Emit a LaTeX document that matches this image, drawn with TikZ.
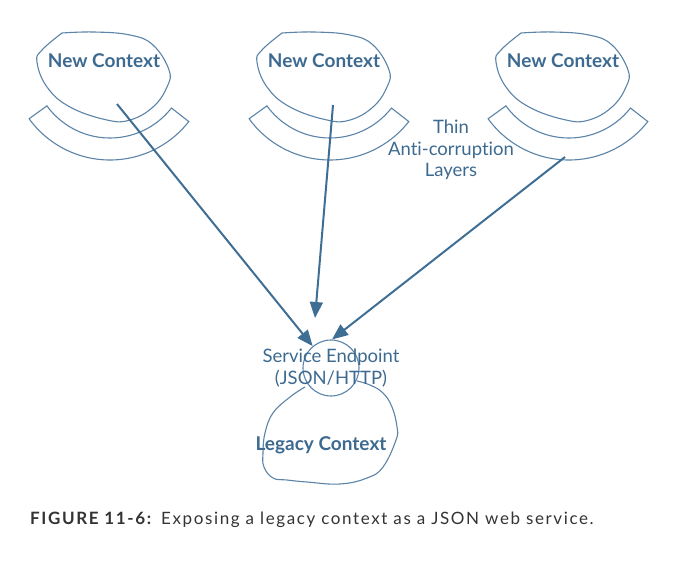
\documentclass[tikz,border=0pt]{standalone}
\usepackage{fontspec}
\setmainfont{Lato}[Ligatures=NoCommon]
\newfontfamily\capfont{Lato}[LetterSpace=9.5,Ligatures=NoCommon]
\usetikzlibrary{arrows.meta,positioning,shapes}
\definecolor{ctxblue}{HTML}{3D6A90}
\definecolor{ctxline}{HTML}{5B84A8}
\definecolor{arrowblue}{HTML}{3F6E95}
\definecolor{capgray}{HTML}{333333}
\tikzset{
    %Define standard arrow tip
    >={Triangle[length=16pt,width=13pt]},
    %Define style for context names
    ctxlabel/.style={
        font=\fontsize{19}{22}\selectfont\bfseries,
        text=ctxblue,
        inner sep=0pt
    },
    plainlabel/.style={
        font=\fontsize{18.5}{21.5}\selectfont,
        text=ctxblue,
        align=center,
        inner sep=0pt
    },
    %Define style for outlines
    outline/.style={
        draw=ctxline,
        line width=1.1pt,
        fill=white
    },
    endpoint/.style={
        circle,
        draw=ctxline,
        line width=1.1pt,
        fill=white,
        minimum size=56pt,
        inner sep=0pt
    },
    % Define arrow style
    pil/.style={
        ->,
        draw=arrowblue,
        line width=2pt}
}
\begin{document}
\begin{tikzpicture}[x=1pt,y=-1pt]
\useasboundingbox (0,0) rectangle (697,574);
% new contexts with their thin layers
\foreach \i/\x in {1/104,2/324,3/563}{
  \begin{scope}[shift={(\x,61)}]
    \draw[outline] plot[smooth,tension=0.7] coordinates {(-42,-28) (-10,-29) (26,-26) (49,-16) (65,9) (63,26) (49,46) (26,59) (3,59) (-34,46) (-57,26) (-67,1) (-62,-11) (-42,-28)};
    \draw[outline] ([shift={(6,-1)}]144:100) arc[start angle=144,end angle=38,radius=100]
      -- ([shift={(6,-1)}]38:78) arc[start angle=38,end angle=144,radius=78] -- cycle;
  \end{scope}
  \node[ctxlabel] (ctx\i) at (\x,61) {New Context};
}
\node[plainlabel] (acl) at (451,150) {Thin\\Anti-corruption\\Layers};
% legacy context
\draw[outline] plot[smooth,tension=0.7] coordinates {(305,387) (290,397) (273,413) (265,433) (263,453) (264,467) (273,478) (287,480) (307,482) (340,484) (367,478) (383,467) (396,440) (397,427) (392,407) (383,393) (370,385) (357,381)};
\node[endpoint] (ep) at (331,368) {};
\node[plainlabel] (eptext) at (ep) {Service Endpoint\\(JSON/HTTP)};
\node[ctxlabel,anchor=base] (legacy) at (321,450) {Legacy Context};
\coordinate (s1) at (117,104);
\coordinate (s2) at (333,105);
\coordinate (s3) at (565,157);
\coordinate (t2) at (315,318);
\path
  (s1) edge[pil] (ep.130)
  (s2) edge[pil] (t2)
  (s3) edge[pil] (ep.88);
\node[anchor=base west,font=\capfont\fontsize{17}{20}\selectfont,text=capgray,inner sep=0pt] (cap) at (30,524)
  {\textbf{FIGURE 11-6:}\enspace Exposing a legacy context as a JSON web service.};
\end{tikzpicture}
\end{document}
